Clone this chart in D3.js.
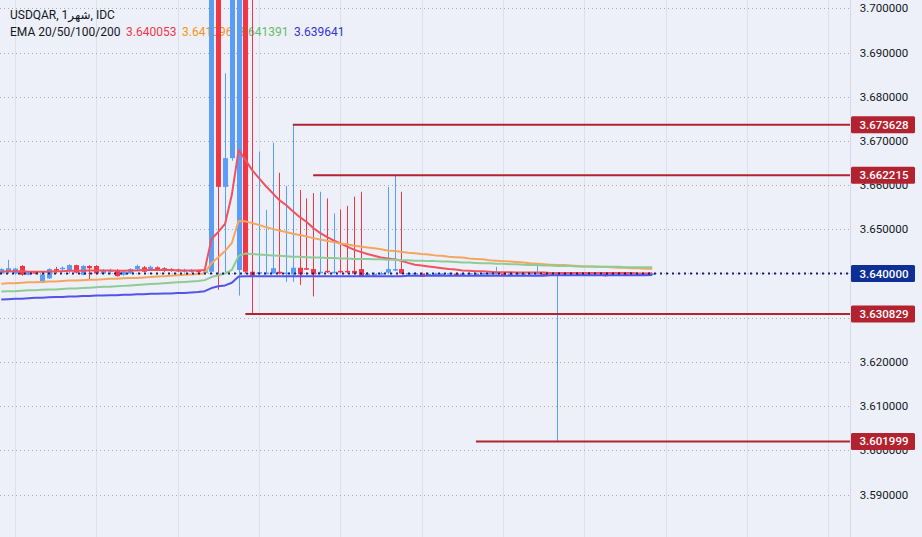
<!DOCTYPE html>
<html>
<head>
<meta charset="utf-8">
<script src="https://cdn.jsdelivr.net/npm/d3@7"></script>
<style>
  html, body { margin: 0; padding: 0; background: #edf0f9; }
  svg { display: block; font-family: Roboto, "Noto Sans", "DejaVu Sans", sans-serif; }
</style>
</head>
<body>
<svg id="chart"></svg>
<script>
var width = 922;
var height = 537;
var plotRight = 850;

// monthly candles, index 0 .. 96
var opens = [3.6400,3.6403,3.6400,3.6417,3.6397,3.6403,3.6379,3.6389,3.6410,3.6410,
  3.6408,3.6419,3.6397,3.6417,3.6417,3.6400,3.6404,3.6408,3.6397,3.6400,
  3.6410,3.6414,3.6410,3.6414,3.6412,3.6410,3.6409,3.6404,3.6405,3.6407,
  3.6403,3.6404,3.7500,3.6596,3.6661,3.6408,3.7500,3.6404,3.6400,3.6400,
  3.6400,3.6404,3.6400,3.6398,3.6413,3.6412,3.6410,3.6402,3.6406,3.6402,
  3.6406,3.6406,3.6406,3.6410,3.6396,3.6397,3.6398,3.6402,3.6409,3.6410,
  3.6399,3.6400,3.6400,3.6396,3.6398,3.6399,3.6399,3.6400,3.6399,3.6399,
  3.6400,3.6399,3.6400,3.6400,3.6400,3.6399,3.6399,3.6400,3.6399,3.6400,
  3.6400,3.6399,3.6400,3.6400,3.6399,3.6400,3.6399,3.6399,3.6398,3.6402,
  3.6397,3.6399,3.6400,3.6399,3.6400,3.6399,3.6400];
var highs = [3.6412,3.6431,3.6413,3.6419,3.6406,3.6405,3.6400,3.6412,3.6415,3.6416,
  3.6421,3.6420,3.6419,3.6419,3.6419,3.6410,3.6411,3.6410,3.6406,3.6412,
  3.6420,3.6417,3.6418,3.6416,3.6414,3.6412,3.6411,3.6411,3.6410,3.6409,
  3.6409,3.7600,3.7600,3.6853,3.7600,3.7600,3.7600,3.7600,3.6676,3.6544,
  3.6696,3.6628,3.6598,3.673628,3.6589,3.6570,3.6582,3.6585,3.6570,3.6536,
  3.6545,3.6553,3.6574,3.6585,3.6403,3.6402,3.6404,3.6596,3.662215,3.6585,
  3.6402,3.6403,3.6402,3.6401,3.6402,3.6401,3.6402,3.6401,3.6401,3.6402,
  3.6401,3.6402,3.6402,3.6415,3.6401,3.6401,3.6402,3.6401,3.6402,3.6423,
  3.6401,3.6402,3.6402,3.6401,3.6402,3.6401,3.6401,3.6402,3.6404,3.6403,
  3.6401,3.6402,3.6401,3.6402,3.6401,3.6402,3.6401];
var lows = [3.6398,3.6400,3.6397,3.6395,3.6396,3.6398,3.6378,3.6388,3.6400,3.6405,
  3.6400,3.6401,3.6396,3.6387,3.6399,3.6398,3.6398,3.6393,3.6395,3.6399,
  3.6408,3.6403,3.6408,3.6406,3.6403,3.6404,3.6403,3.6402,3.6402,3.6401,
  3.6400,3.6400,3.6363,3.6401,3.6655,3.6350,3.6400,3.630829,3.6397,3.6398,
  3.6399,3.6398,3.6381,3.6381,3.6374,3.6408,3.6348,3.6399,3.6401,3.6400,
  3.6401,3.6400,3.6398,3.6392,3.6395,3.6396,3.6397,3.6398,3.6405,3.6399,
  3.6397,3.6398,3.6392,3.6395,3.6397,3.6397,3.6398,3.6398,3.6397,3.6398,
  3.6398,3.6398,3.6398,3.6398,3.6398,3.6398,3.6398,3.6398,3.6398,3.6398,
  3.6398,3.6398,3.601999,3.6398,3.6398,3.6398,3.6398,3.6398,3.6397,3.6393,
  3.6396,3.6398,3.6398,3.6398,3.6398,3.6398,3.6398];
var closes = [3.6410,3.6412,3.6411,3.6397,3.6403,3.6400,3.6398,3.6410,3.6408,3.6413,
  3.6419,3.6402,3.6417,3.6412,3.6400,3.6406,3.6408,3.6394,3.6404,3.6410,
  3.6417,3.6404,3.6415,3.6408,3.6406,3.6406,3.6405,3.6408,3.6407,3.6403,
  3.6405,3.7500,3.6596,3.6661,3.7500,3.7500,3.6404,3.6395,3.6403,3.6402,
  3.6412,3.6400,3.6402,3.6413,3.6398,3.6410,3.6398,3.6404,3.6404,3.6404,
  3.6404,3.6404,3.6400,3.6393,3.6399,3.6399,3.6401,3.6410,3.6410,3.6400,
  3.6401,3.6401,3.6393,3.6399,3.6400,3.6400,3.6401,3.6399,3.6400,3.6401,
  3.6400,3.6401,3.6401,3.6401,3.6399,3.6400,3.6401,3.6400,3.6401,3.6401,
  3.6399,3.6401,3.6401,3.6400,3.6401,3.6399,3.6400,3.6401,3.6402,3.6394,
  3.6400,3.6401,3.6399,3.6401,3.6400,3.6401,3.6400];

// EMA values read per candle
var ema20 = [3.6404,3.6405,3.6405,3.6405,3.6404,3.6404,3.6404,3.6404,3.6405,3.6405,
  3.6406,3.6406,3.6406,3.6407,3.6407,3.6407,3.6407,3.6406,3.6406,3.6407,
  3.6407,3.6408,3.6408,3.6408,3.6408,3.6408,3.6407,3.6407,3.6407,3.6407,
  3.6408,3.6478,3.6494,3.6512,3.6578,3.6679,3.6657,3.6634,3.6616,3.6598,
  3.6582,3.6566,3.6555,3.6541,3.6528,3.6517,3.6503,3.6492,3.6483,3.6475,
  3.6468,3.6461,3.6454,3.6449,3.6444,3.6440,3.6436,3.6434,3.6432,3.6429,
  3.6424,3.6420,3.6418,3.6416,3.6414,3.6412,3.6410,3.6409,3.6407,3.6406,
  3.6405,3.6405,3.6404,3.6403,3.6403,3.6403,3.6402,3.6402,3.6402,3.6402,
  3.6402,3.6401,3.6401,3.6401,3.6401,3.6401,3.6401,3.6401,3.6401,3.6401,
  3.6401,3.6401,3.6401,3.6401,3.6400,3.6400,3.640053];
var ema50 = [3.6377,3.6378,3.6378,3.6379,3.6380,3.6380,3.6381,3.6382,3.6382,3.6383,
  3.6384,3.6384,3.6385,3.6386,3.6386,3.6387,3.6388,3.6388,3.6389,3.6390,
  3.6390,3.6391,3.6392,3.6393,3.6394,3.6395,3.6396,3.6397,3.6398,3.6399,
  3.6400,3.6424,3.6437,3.6451,3.6469,3.6519,3.6518,3.6514,3.6510,3.6505,
  3.6501,3.6497,3.6494,3.6490,3.6487,3.6484,3.6480,3.6477,3.6474,3.6471,
  3.6468,3.6466,3.6463,3.6461,3.6459,3.6457,3.6455,3.6452,3.6451,3.6449,
  3.6447,3.6446,3.6444,3.6443,3.6441,3.6440,3.6438,3.6437,3.6436,3.6434,
  3.6433,3.6432,3.6430,3.6429,3.6428,3.6427,3.6426,3.6425,3.6423,3.6422,
  3.6421,3.6420,3.6419,3.6419,3.6418,3.6417,3.6416,3.6416,3.6415,3.6415,
  3.6414,3.6413,3.6413,3.6412,3.6412,3.6411,3.641096];
var ema100 = [3.6359,3.6360,3.6360,3.6361,3.6362,3.6362,3.6363,3.6364,3.6364,3.6365,
  3.6366,3.6366,3.6367,3.6368,3.6369,3.6370,3.6370,3.6371,3.6372,3.6373,
  3.6374,3.6375,3.6376,3.6377,3.6378,3.6379,3.6380,3.6381,3.6382,3.6383,
  3.6385,3.6392,3.6396,3.6400,3.6408,3.6440,3.6445,3.6444,3.6443,3.6442,
  3.6441,3.6440,3.6439,3.6438,3.6438,3.6437,3.6436,3.6436,3.6435,3.6435,
  3.6434,3.6434,3.6433,3.6433,3.6433,3.6432,3.6432,3.6431,3.6431,3.6430,
  3.6430,3.6429,3.6429,3.6428,3.6428,3.6427,3.6427,3.6426,3.6425,3.6425,
  3.6424,3.6423,3.6423,3.6422,3.6422,3.6421,3.6421,3.6420,3.6419,3.6419,
  3.6418,3.6418,3.6417,3.6417,3.6417,3.6416,3.6416,3.6416,3.6415,3.6415,
  3.6415,3.6415,3.6414,3.6414,3.6414,3.6414,3.641391];
var ema200 = [3.6341,3.6342,3.6343,3.6343,3.6344,3.6345,3.6345,3.6346,3.6347,3.6347,
  3.6348,3.6348,3.6349,3.6349,3.6350,3.6350,3.6351,3.6351,3.6352,3.6352,
  3.6353,3.6353,3.6354,3.6354,3.6355,3.6355,3.6356,3.6356,3.6357,3.6358,
  3.6360,3.6367,3.6371,3.6373,3.6379,3.6393,3.6394,3.6394,3.6394,3.6394,
  3.6394,3.6394,3.6394,3.6394,3.6394,3.6394,3.6394,3.6394,3.6394,3.6394,
  3.6394,3.6394,3.6394,3.6394,3.6394,3.6394,3.6394,3.6394,3.6394,3.6394,
  3.6395,3.6395,3.6395,3.6395,3.6395,3.6395,3.6395,3.6395,3.6395,3.6395,
  3.6395,3.6395,3.6395,3.6395,3.6395,3.6395,3.6395,3.6395,3.6395,3.6395,
  3.6395,3.6396,3.6396,3.6396,3.6396,3.6396,3.6396,3.6396,3.6396,3.6396,
  3.6396,3.6396,3.6396,3.6396,3.6396,3.6396,3.639641];

var emaSeries = [ema20, ema50, ema100, ema200];
var emaColors = ['#f0525e', '#f6a65c', '#8ecb95', '#5353ea'];
var emaLegend = ['3.640053', '3.641096', '3.641391', '3.639641'];
var legendColors = ['#f23645', '#f7931a', '#66bb6a', '#3535d0'];

// drawn horizontal levels and the candle they start from
var levels = [3.673628, 3.662215, 3.630829, 3.601999];
var levelStart = [43, 46, 36, 70];
var lastPrice = 3.640000;

var yTicks = [3.59, 3.60, 3.61, 3.62, 3.63, 3.64, 3.65, 3.66, 3.67, 3.68, 3.69, 3.70];
var gridIdx = [2, 14, 26, 38, 50, 62, 74, 86, 98, 110, 122];

var svg = d3.select('#chart')
    .attr('width', width)
    .attr('height', height);

var yScale = d3.scaleLinear().domain([3.59, 3.70]).range([494.5, 8.3]);
var xScale = d3.scaleLinear().domain([0, 96]).range([1.3, 652.2]);

svg.append('rect').attr('width', width).attr('height', height).attr('fill', '#edf0f9');

svg.append('defs').append('clipPath').attr('id', 'plot')
    .append('rect').attr('x', 0).attr('y', 0).attr('width', plotRight).attr('height', height);

// grid
svg.append('g').selectAll('line').data(gridIdx).enter().append('line')
    .attr('x1', d => Math.round(xScale(d)) + 0.5)
    .attr('x2', d => Math.round(xScale(d)) + 0.5)
    .attr('y1', 0).attr('y2', height)
    .attr('stroke', '#dde0ec').attr('stroke-width', 1);

svg.append('g').selectAll('line').data(yTicks).enter().append('line')
    .attr('x1', 0).attr('x2', plotRight)
    .attr('y1', d => Math.round(yScale(d)) + 0.5)
    .attr('y2', d => Math.round(yScale(d)) + 0.5)
    .attr('stroke', '#a7acbd').attr('stroke-width', 1)
    .attr('stroke-dasharray', '1,3');

svg.append('line')
    .attr('x1', plotRight + 0.5).attr('x2', plotRight + 0.5)
    .attr('y1', 0).attr('y2', height)
    .attr('stroke', '#d5d9e5');

// legend (candles sit over it, as in the original)
var legend = svg.append('g').style('font-size', '12px');
legend.append('text').attr('x', 10).attr('y', 19).attr('fill', '#131722')
    .attr('direction', 'ltr')
    .text('USDQAR, 1شهر, IDC');
legend.append('text').attr('x', 10).attr('y', 36).attr('fill', '#131722')
    .text('EMA 20/50/100/200');
var legendX = [126, 182, 238, 294];
emaLegend.forEach(function (t, i) {
    legend.append('text').attr('x', legendX[i]).attr('y', 36)
        .attr('fill', legendColors[i]).text(t);
});

var plot = svg.append('g').attr('clip-path', 'url(#plot)');

// candles
var candles = d3.range(opens.length).map(function (i) {
    return { i: i, o: opens[i], h: highs[i], l: lows[i], c: closes[i] };
});
var upColor = '#5b9cf6';
var downColor = '#f23645';

var cg = plot.append('g').selectAll('g').data(candles).enter().append('g');
cg.append('line')
    .attr('x1', d => Math.round(xScale(d.i)) + 0.5)
    .attr('x2', d => Math.round(xScale(d.i)) + 0.5)
    .attr('y1', d => yScale(d.h))
    .attr('y2', d => yScale(d.l))
    .attr('stroke', d => d.c >= d.o ? upColor : downColor)
    .attr('stroke-width', 1);
cg.append('rect')
    .attr('x', d => Math.round(xScale(d.i)) - 2)
    .attr('width', 5)
    .attr('y', d => yScale(Math.max(d.o, d.c)))
    .attr('height', d => Math.max(1.5, Math.abs(yScale(d.o) - yScale(d.c))))
    .attr('fill', d => d.c >= d.o ? upColor : downColor);

// EMA lines
var line = d3.line().x((d, i) => xScale(i)).y(d => yScale(d));
emaSeries.forEach(function (s, k) {
    plot.append('path').datum(s)
        .attr('d', line)
        .attr('fill', 'none')
        .attr('stroke', emaColors[k])
        .attr('stroke-width', 2)
        .attr('stroke-linejoin', 'round');
});

// horizontal level drawings
plot.append('g').selectAll('line').data(levels).enter().append('line')
    .attr('x1', (d, i) => xScale(levelStart[i]))
    .attr('x2', plotRight)
    .attr('y1', d => yScale(d))
    .attr('y2', d => yScale(d))
    .attr('stroke', '#b3222f')
    .attr('stroke-width', 2);

// last price line
plot.append('line')
    .attr('x1', 0).attr('x2', plotRight)
    .attr('y1', yScale(lastPrice)).attr('y2', yScale(lastPrice))
    .attr('stroke', '#17206e')
    .attr('stroke-width', 2)
    .attr('stroke-dasharray', '2,4');

// price scale: tick labels hidden when a price box sits right on them
var boxed = levels.concat([lastPrice]);
var shownTicks = yTicks.filter(function (t) {
    return boxed.every(function (b) { return Math.abs(yScale(t) - yScale(b)) > 6; });
});
var axis = svg.append('g').style('font-size', '11.5px');
axis.selectAll('text').data(shownTicks).enter().append('text')
    .attr('x', 884)
    .attr('y', d => yScale(d))
    .attr('dy', '0.35em')
    .attr('text-anchor', 'middle')
    .attr('fill', '#131722')
    .text(d => d.toFixed(6));

function priceBox(v, fill) {
    var g = axis.append('g');
    g.append('rect')
        .attr('x', plotRight + 1).attr('width', 64)
        .attr('y', yScale(v) - 8.5).attr('height', 17)
        .attr('rx', 1.5)
        .attr('fill', fill);
    g.append('text')
        .attr('x', 884).attr('y', yScale(v)).attr('dy', '0.35em')
        .attr('text-anchor', 'middle')
        .attr('fill', '#ffffff')
        .style('font-weight', 500)
        .text(v.toFixed(6));
}
levels.forEach(function (v) { priceBox(v, '#b3222f'); });
priceBox(lastPrice, '#0e2f96');
</script>
</body>
</html>
